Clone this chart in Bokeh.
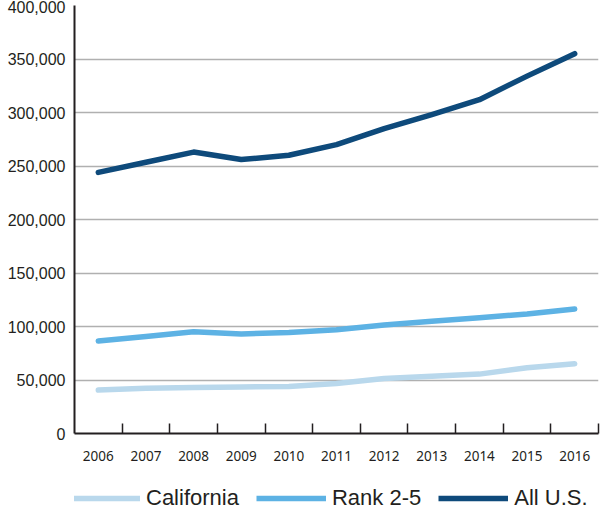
from bokeh.plotting import figure
from bokeh.layouts import column
from bokeh.models import (Range1d, FixedTicker, NumeralTickFormatter, Legend, LegendItem,
                          ColumnDataSource)
from bokeh.embed import file_html
from bokeh.resources import INLINE

years = ["2006", "2007", "2008", "2009", "2010", "2011", "2012", "2013", "2014", "2015", "2016"]
california = [40600, 42400, 43000, 43500, 44000, 46800, 51500, 53600, 55500, 61400, 65200]
rank_2_5 = [86400, 90600, 95000, 93000, 94500, 97000, 101400, 104900, 108200, 111700, 116400]
all_us = [244000, 253500, 263000, 256000, 260000, 270000, 285000, 298000, 312000, 334000, 355000]
y_ticks = [0, 50000, 100000, 150000, 200000, 250000, 300000, 350000, 400000]
series_names = ["California", "Rank 2-5", "All U.S."]
series_colors = ["#b9d8ec", "#5db2e4", "#0e4a7b"]

idx = list(range(len(years)))
src = ColumnDataSource(dict(x=idx, ca=california, rk=rank_2_5, us=all_us))

p = figure(width=600, height=473, output_backend="svg", toolbar_location=None,
           x_range=Range1d(-0.5, len(years) - 0.5), y_range=Range1d(0, 400000),
           min_border_left=74, min_border_right=2, min_border_top=5, min_border_bottom=40)
p.outline_line_color = None

for col, c in zip(["ca", "rk", "us"], series_colors):
    p.line("x", col, source=src, line_color=c, line_width=5.5, line_cap="round", line_join="round")

# x axis
xa = p.xaxis[0]
xa.ticker = FixedTicker(ticks=idx, minor_ticks=[i + 0.5 for i in idx])
xa.major_label_overrides = {i: y for i, y in zip(idx, years)}
xa.major_tick_in = 0
xa.major_tick_out = 0
xa.minor_tick_in = 10
xa.minor_tick_out = 0
xa.minor_tick_line_color = "#231f20"
xa.minor_tick_line_width = 1.5
xa.axis_line_color = "#231f20"
xa.axis_line_width = 2
xa.major_label_standoff = 17
xa.major_label_text_font = "Noto Sans"
xa.major_label_text_font_size = "13.5px"
xa.major_label_text_color = "#231f20"

# y axis
ya = p.yaxis[0]
ya.ticker = FixedTicker(ticks=y_ticks)
ya.formatter = NumeralTickFormatter(format="0,0")
ya.major_tick_in = 0
ya.major_tick_out = 0
ya.minor_tick_in = 0
ya.minor_tick_out = 0
ya.axis_line_color = "#231f20"
ya.axis_line_width = 2
ya.major_label_standoff = 9
ya.major_label_text_font = "Liberation Sans"
ya.major_label_text_font_size = "16px"
ya.major_label_text_color = "#231f20"

p.xgrid.visible = False
p.ygrid.ticker = FixedTicker(ticks=y_ticks)
p.ygrid.grid_line_color = "#b0b0b0"
p.ygrid.grid_line_width = 1.5

# legend strip
pl = figure(width=600, height=38, output_backend="svg", toolbar_location=None,
            x_axis_type=None, y_axis_type=None,
            x_range=Range1d(0, 1), y_range=Range1d(0, 1),
            min_border_left=0, min_border_right=0, min_border_top=0, min_border_bottom=0)
pl.outline_line_color = None
pl.xgrid.visible = False
pl.ygrid.visible = False
items = []
for col, c, name in zip(["ca", "rk", "us"], series_colors, series_names):
    r = pl.line("x", col, source=src, line_color=c, line_width=5.5, line_cap="butt", visible=False)
    items.append(LegendItem(label=name, renderers=[r]))

legend = Legend(items=items, orientation="horizontal", location=(-4, 0),
                glyph_width=70, glyph_height=20, label_height=20, label_standoff=6, spacing=17,
                label_text_font="Liberation Sans", label_text_font_size="22px",
                label_text_color="#231f20", border_line_color=None,
                background_fill_alpha=0, padding=0, margin=0)
pl.add_layout(legend, "center")

layout = column(p, pl, spacing=0)
open("out.html", "w").write(file_html(layout, INLINE))
